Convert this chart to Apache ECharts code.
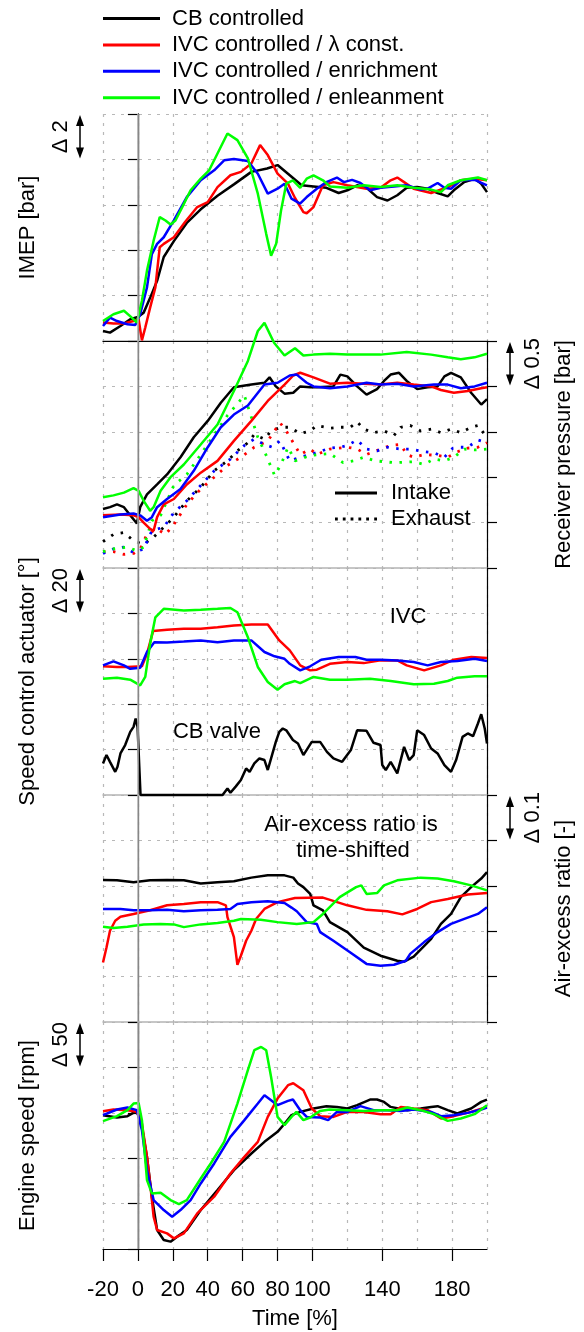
<!DOCTYPE html>
<html><head><meta charset="utf-8">
<script src="https://cdn.jsdelivr.net/npm/echarts@6/dist/echarts.min.js"></script>
<style>html,body{margin:0;padding:0;background:#fff}#c{width:584px;height:1332px}</style>
</head><body><div id="c"></div><script>
// ---------------- DATA ----------------
const seriesNames = ['CB controlled','IVC controlled / λ const.','IVC controlled / enrichment','IVC controlled / enleanment'];
const xTickValues = [-20,0,20,40,60,80,100,140,180];
const panelNames = ['IMEP [bar]','Receiver pressure [bar]','Speed control actuator [°]','Air-excess ratio [-]','Engine speed [rpm]'];
const deltaLabels = ['Δ 2','Δ 0.5','Δ 20','Δ 0.1','Δ 50'];
const deltaSteps = [2,0.5,20,0.1,50];
const pressureLegend = ['Intake','Exhaust'];

// Panel 1: IMEP [bar] (relative, 2 bar per division)
const imepCB = [[-20,0.44],[-16,0.37],[-10,0.66],[-4.4,0.96],[0,1.06],[3.3,1.25],[7,1.9],[11,2.65],[14.8,3.7],[20.6,4.4],[28,5.2],[36,5.8],[45.6,6.4],[55,6.9],[65,7.45],[74,7.6],[80,7.75],[87,7.3],[93.8,6.86],[100.6,6.81],[108,6.75],[115,6.52],[120,6.64],[125.6,6.86],[131,6.75],[137,6.34],[143,6.19],[148.6,6.42],[154,6.75],[160,6.78],[166,6.71],[171.7,6.52],[177.5,6.37],[181,6.64],[187,7.0],[193,7.15],[196.7,6.93],[200,6.56]];
const imepIVC = [[-20,0.81],[-14,0.77],[-8,0.77],[-2.5,0.88],[0.4,0.96],[2.3,0.03],[4.2,0.59],[7,1.47],[10,2.36],[12.5,4.13],[14.8,4.28],[20.6,4.57],[27,5.24],[34,5.9],[40,6.12],[45.6,6.78],[53,7.3],[59,7.45],[65,7.82],[70,8.63],[74.4,8.19],[80,7.37],[86,6.93],[90,6.3],[94.8,5.68],[96.7,5.63],[100.6,5.9],[106,6.86],[112,7.0],[120,6.86],[131,6.71],[139,6.75],[144.8,7.08],[148.6,7.2],[152.5,7.0],[158,6.71],[168,6.52],[177.5,6.78],[185,7.08],[193,7.15],[200,7.08]];
const imepEnr = [[-20,0.66],[-16,1.03],[-12,0.88],[-6,0.74],[-1.5,0.71],[1.3,1.18],[5.2,2.36],[8,3.83],[11,4.28],[14.8,4.57],[20.6,5.31],[28,6.34],[36,7.08],[43.7,7.52],[49.4,7.96],[55,8.02],[63,7.93],[68.7,7.37],[74.4,6.49],[80,6.71],[84,6.93],[88,6.27],[92.9,6.05],[96.7,6.34],[102.5,6.71],[108,7.0],[114,7.2],[118,7.0],[122.7,7.1],[127.5,6.96],[133,6.64],[139,6.75],[146.7,6.81],[154,6.86],[162,6.67],[166,6.71],[171.7,6.96],[175.6,6.75],[179.4,6.71],[185,7.08],[193,7.1],[200,6.86]];
const imepLean = [[-20,0.88],[-14,1.18],[-8,1.33],[-3.5,1.03],[-0.6,0.81],[2.3,1.77],[5.2,3.1],[9,4.42],[12.5,5.46],[15.8,5.31],[18.7,5.13],[21.5,5.31],[25.4,5.9],[30.2,6.64],[36,7.15],[40.8,7.52],[45.6,8.26],[51.3,9.14],[57,8.85],[63,8.04],[68.7,6.49],[73.5,4.72],[76.3,3.76],[79.2,4.28],[82,5.75],[85,6.93],[88.8,7.08],[93,6.75],[96.7,7.15],[100.6,7.3],[106,7.08],[110,6.81],[120,6.75],[129.4,6.86],[139,6.78],[148.6,6.86],[158,6.75],[168,6.67],[173.6,6.56],[177.5,6.86],[185,7.08],[194.8,7.2],[200,7.08]];

// Panel 2: receiver pressure [bar] (0.5 bar per division)
const presCB = [[-20,0.65],[-16,0.67],[-12,0.70],[-8,0.67],[-3.5,0.56],[-0.6,0.49],[1.3,0.67],[5.2,0.81],[11,0.92],[16.7,1.03],[24.4,1.22],[32,1.44],[40,1.62],[47.5,1.82],[55,1.99],[65,2.02],[72.5,2.04],[75.4,2.10],[79,2.0],[84,1.92],[89,1.93],[93,2.0],[98.7,1.99],[102.5,1.99],[112,2.0],[116,2.13],[120,2.11],[125.6,2.0],[131,1.91],[137,1.97],[141,2.06],[144.8,2.13],[149.6,2.15],[154,2.06],[160,1.97],[166,1.99],[171.7,2.0],[175.6,2.11],[179.4,2.15],[185,2.10],[190.9,1.93],[196.7,1.80],[200,1.86]];
const presIVC = [[-20,0.58],[-10,0.59],[-2.5,0.58],[0.4,0.56],[3.3,0.50],[7,0.43],[9,0.41],[11,0.56],[14.8,0.70],[20.6,0.76],[28,0.92],[36,1.05],[45.6,1.18],[55,1.40],[65,1.62],[74.4,1.84],[84,2.02],[89,2.12],[93,2.15],[100.6,2.10],[110,2.03],[120,2.04],[129,2.03],[139,2.02],[148.6,2.04],[158,2.02],[168,2.0],[173.6,1.96],[181,1.93],[189,1.95],[196.7,1.98],[200,1.99]];
const presEnr = [[-20,0.56],[-10,0.59],[-2.5,0.60],[1.3,0.58],[5.2,0.52],[8,0.56],[11,0.67],[16.7,0.76],[24.4,0.87],[32,1.07],[40,1.33],[47.5,1.55],[55,1.69],[63,1.79],[72.5,2.02],[80,2.04],[87,2.12],[91,2.13],[96.7,2.04],[100.6,2.0],[110,1.98],[120,2.0],[131,2.04],[139,2.02],[148.6,2.03],[158,2.0],[169.6,2.02],[177.5,2.02],[185,1.98],[192.9,2.0],[200,2.04]];
const presLean = [[-20,0.78],[-14,0.80],[-8,0.83],[-2.5,0.88],[0.4,0.85],[3.3,0.74],[7,0.63],[9,0.67],[13,0.85],[18.7,1.0],[26.3,1.14],[36,1.36],[45.6,1.58],[55,1.95],[63,2.28],[68.7,2.61],[72.5,2.70],[78,2.48],[84,2.34],[90,2.42],[94.8,2.34],[100.6,2.35],[110,2.36],[120,2.35],[139,2.35],[154,2.38],[168,2.35],[177.5,2.32],[185,2.30],[192.9,2.32],[200,2.36]];
const exhCB = [[-20,0.29],[-14,0.37],[-8,0.39],[-2.5,0.30],[3.3,0.26],[9,0.34],[14.8,0.45],[20.6,0.56],[28,0.74],[36,0.89],[43.7,1.07],[51.3,1.18],[57,1.29],[63,1.38],[66.7,1.47],[72.5,1.42],[76.3,1.51],[82,1.55],[87,1.55],[93,1.48],[98.7,1.51],[102.5,1.57],[110,1.54],[116,1.55],[121.7,1.55],[125.6,1.61],[129.4,1.53],[135,1.49],[141,1.51],[146.7,1.46],[150.6,1.55],[156,1.57],[162,1.51],[168,1.53],[173.6,1.49],[179.4,1.53],[185,1.49],[190.9,1.55],[194.8,1.57],[198.7,1.47],[200,1.45]];
const exhIVC = [[-20,0.18],[-14,0.18],[-8,0.15],[-2.5,0.16],[1.3,0.21],[5.2,0.37],[11,0.43],[15.8,0.37],[20.6,0.48],[28,0.70],[36,0.87],[43.7,1.0],[51.3,1.13],[59,1.22],[66.7,1.33],[74.4,1.40],[81.4,1.60],[85,1.51],[89,1.38],[93,1.25],[98.7,1.31],[102.5,1.25],[110,1.31],[120,1.33],[125.6,1.31],[131,1.25],[139,1.31],[144.8,1.35],[150.6,1.36],[154,1.25],[158,1.22],[164,1.25],[171.7,1.24],[177.5,1.22],[183,1.28],[189,1.32],[194.8,1.33],[200,1.38]];
const exhEnr = [[-20,0.16],[-14,0.21],[-8,0.23],[-2.5,0.17],[3.3,0.21],[8,0.41],[14.8,0.45],[20.6,0.61],[28,0.74],[36,0.91],[43.7,1.07],[53,1.20],[61,1.35],[66.7,1.42],[72.5,1.36],[77,1.33],[81.4,1.40],[87,1.18],[93,1.22],[100.6,1.26],[110,1.32],[116,1.33],[120,1.35],[125.6,1.41],[131,1.31],[137,1.29],[142.9,1.33],[150.6,1.31],[156,1.31],[164,1.28],[169.6,1.27],[175.6,1.22],[180.4,1.32],[185,1.33],[189,1.33],[194.8,1.41],[200,1.38]];
const exhLean = [[-20,0.18],[-14,0.21],[-6,0.23],[-0.6,0.19],[3.3,0.23],[8,0.52],[13,0.58],[20.6,0.91],[28,1.03],[36,1.25],[43.7,1.47],[51.3,1.68],[61,1.90],[68.7,1.44],[73.5,1.24],[78.3,1.02],[82,1.14],[86,1.33],[90,1.18],[93,1.20],[98.7,1.24],[104,1.25],[110,1.26],[117.5,1.16],[123.6,1.18],[129.4,1.22],[136,1.18],[146.7,1.16],[158,1.17],[164,1.14],[169.6,1.20],[175.6,1.18],[181,1.22],[187,1.31],[192.9,1.30],[200,1.31]];

// Panel 3: speed control actuator [°] (20° per division)
const cbValve = [[-20,13.9],[-18,17.6],[-16,14.6],[-13,10.2],[-11.7,12.4],[-10,18.3],[-7.3,22.0],[-4.4,27.8],[-2.5,30.0],[-1.3,33.7],[-0.2,30.0],[1.5,0],[48.5,0],[51.3,2.9],[53,1.0],[56,3.7],[59,6.6],[62,11.7],[64,10.2],[66.7,13.9],[69.6,16.1],[72.5,15.4],[74.4,11.0],[76.3,16.1],[79,23.4],[81,27.8],[83,29.3],[85,28.5],[86,29.3],[88.8,24.2],[91.7,22.7],[94.8,17.6],[99.6,23.4],[104.4,23.4],[108.3,19.0],[112,16.1],[117,14.6],[122,19.8],[125.6,28.5],[131,28.3],[135,23.0],[139,22.0],[140,13.2],[142,11.0],[144.8,14.6],[148.6,9.5],[152.5,21.2],[155.4,15.4],[158,17.6],[160,28.5],[164,26.4],[168,20.5],[171.7,18.3],[175.6,13.2],[179.4,10.2],[182.3,15.4],[186,25.6],[189,27.1],[192,25.9],[194.8,31.5],[196.7,35.6],[198.7,29.3],[200,22.7]];
const ivcConst = [[-20,56.7],[-12,56.4],[-6,56.4],[2.3,56.7],[5.2,62.2],[8.7,72.2],[16.7,72.8],[26.3,73.2],[36,73.2],[45.6,73.9],[55,74.7],[65,75.1],[74.4,75.1],[81,68.1],[87,63.7],[93,57.1],[98.7,54.9],[102.5,55.2],[110,57.8],[120,58.6],[129.4,58.1],[139,59.3],[148.6,59.3],[154,57.1],[164,54.9],[173.6,57.1],[181,59.6],[191,60.8],[200,60.3]];
const ivcEnr = [[-20,57.1],[-14,58.9],[-8,57.1],[-4.4,55.6],[1.3,56.1],[5.2,63.0],[9.4,67.3],[16.7,67.2],[26.3,67.6],[36,68.1],[45.6,67.3],[55,68.1],[65,68.1],[72.5,63.0],[78.3,61.1],[84,60.0],[87,57.8],[93,54.9],[98.7,56.7],[105,59.6],[115,60.8],[124.6,60.8],[131,59.6],[139,59.6],[148.6,59.3],[158,58.6],[166,57.1],[173.6,58.6],[183,59.0],[192.9,60.0],[200,59.0]];
const ivcLean = [[-20,51.2],[-12,51.7],[-4.4,50.8],[1.3,48.3],[4.2,52.0],[7,66.6],[10,78.3],[14.8,82.0],[26.3,81.3],[36,81.6],[45.6,82.0],[53,82.4],[57,80.5],[63,69.5],[68.7,56.4],[74.4,49.8],[80,46.4],[84,48.8],[90,50.2],[93,49.3],[100.6,52.0],[110,50.8],[120,50.8],[133,51.2],[144.8,50.2],[158,48.8],[169.6,49.0],[177.5,50.2],[183,51.7],[192.9,52.3],[200,52.3]];

// Panel 4: air-excess ratio [-] (0.1 per division)
const lamCB = [[-20,0.313],[-12,0.312],[-2.5,0.308],[7,0.312],[16.7,0.313],[26.3,0.312],[36,0.305],[45.6,0.308],[55,0.310],[65,0.318],[74.4,0.323],[84,0.323],[89,0.318],[91.7,0.305],[94.8,0.297],[98.7,0.282],[100.6,0.257],[106,0.246],[110,0.220],[120,0.198],[129.4,0.164],[139,0.146],[148.6,0.135],[152.5,0.133],[158,0.144],[168,0.183],[173.6,0.216],[179.4,0.238],[185,0.275],[190.9,0.297],[196.7,0.316],[200,0.330]];
const lamIVC = [[-20,0.131],[-18,0.164],[-16,0.201],[-13,0.223],[-10,0.232],[-2.5,0.238],[7,0.246],[16.7,0.257],[26.3,0.260],[36,0.264],[45.6,0.264],[50.4,0.257],[51.3,0.231],[55,0.187],[57,0.126],[59,0.146],[62,0.179],[65,0.201],[67.7,0.227],[72.5,0.249],[80,0.264],[90,0.273],[106,0.274],[120,0.257],[131,0.247],[142.9,0.244],[151.5,0.237],[160,0.249],[168,0.264],[177.5,0.271],[189,0.281],[200,0.284]];
const lamEnr = [[-20,0.249],[-10,0.249],[-2.5,0.246],[7,0.246],[16.7,0.247],[26.3,0.244],[36,0.246],[45.6,0.247],[53,0.249],[57,0.260],[65,0.264],[74.4,0.266],[84,0.262],[88,0.252],[91,0.244],[96.7,0.220],[102.5,0.216],[104.4,0.198],[112,0.179],[121.7,0.153],[131,0.128],[139,0.124],[146.7,0.126],[153.5,0.135],[156,0.150],[164,0.176],[171.7,0.198],[179.4,0.216],[187,0.227],[194.8,0.238],[200,0.253]];
const lamLean = [[-20,0.210],[-14,0.207],[-6,0.210],[3.3,0.215],[12.9,0.216],[20.6,0.215],[26.3,0.209],[36,0.215],[45.6,0.218],[55,0.223],[59,0.227],[70.4,0.225],[80,0.220],[91,0.216],[100.6,0.220],[106,0.238],[115.6,0.275],[125,0.297],[128,0.301],[131,0.282],[137,0.284],[141,0.301],[148.6,0.312],[162,0.318],[171.7,0.316],[181,0.310],[190.9,0.301],[200,0.290]];

// Panel 5: engine speed [rpm] (50 rpm per division)
const spdCB = [[-20,147.4],[-12,144.8],[-6,146.3],[-0.6,152.1],[2.3,134.5],[5.2,101.5],[8,57.6],[11,20.9],[14.8,9.9],[18.7,8.1],[22.5,13.6],[28,20.9],[36,42.9],[45.6,64.9],[55,86.9],[65,105.2],[72.5,118.0],[80,129.0],[84,138],[88,147.4],[93,151.0],[100.6,154.7],[108,157.3],[114,156.5],[120,154.7],[125.6,158.4],[133,164.6],[137,164.6],[141,162.0],[144.8,156.5],[154.4,152.9],[162,154.7],[168,156.5],[171.7,157.3],[177.5,152.9],[183,149.2],[190.9,154.7],[196.7,162.0],[200,164.6]];
const spdIVC = [[-20,151.8],[-14,153.6],[-6,152.9],[-0.6,151.0],[2.3,138.2],[5.2,101.5],[7,72.2],[9,35.6],[11,20.9],[16.7,17.2],[20.6,11.7],[26.3,17.2],[34,39.2],[43.7,57.6],[53,83.2],[61,101.5],[68.7,118.0],[74.4,145.5],[80,165.7],[86,180.4],[89,182.5],[94.8,174.9],[99.6,154.7],[104.4,146.3],[112,145.5],[120,151.0],[129.4,151.0],[139,148.5],[144.8,148.5],[150.6,156.5],[158,154.7],[166,152.9],[173.6,143.7],[181,146.3],[190.9,151.0],[200,156.5]];
const spdEnr = [[-20,147.4],[-12,153.6],[-6,155.8],[-0.6,152.9],[2.3,130.9],[5.2,86.9],[9,53.9],[14.8,42.9],[19.6,35.6],[24.4,42.9],[30.2,53.9],[36,72.2],[43.7,94.2],[53,123.5],[61,141.9],[68.7,160.2],[72.5,169.4],[76.3,163.9],[80,158.4],[86,163.1],[88.8,164.6],[93,152.9],[96.7,145.5],[104.4,144.8],[109,141.9],[114,151.0],[120,151.0],[127.5,157.3],[135,152.9],[142.9,152.9],[150.6,152.1],[158,153.6],[168,151.0],[173.6,146.3],[181,147.4],[189,149.9],[196.7,153.6],[200,155.8]];
const spdLean = [[-20,140.8],[-12,146.3],[-6,152.9],[-2.5,160.2],[0.4,160.9],[2.3,141.9],[5.2,75.9],[8,61.2],[13,62.0],[18.7,53.9],[23.5,49.5],[28,53.9],[36,77.7],[41.7,94.2],[49.4,118.0],[57,160.2],[63,196.9],[66.7,218.9],[70.6,222.5],[73.5,218.9],[76.3,189.5],[80,145.5],[84,136.4],[88,145.5],[90.8,151.0],[94.8,141.9],[98.7,144.8],[104.4,152.1],[110,153.6],[120,152.9],[129.4,152.1],[139,152.9],[148.6,152.9],[154.4,155.8],[162,152.9],[169.6,148.5],[177.5,141.1],[185,143.7],[192.9,148.5],[200,158.4]];

// ---------------- STYLE / LAYOUT ----------------
const COLORS = ['#000000','#ff0000','#0000ff','#00ff00'];
const FONT = 'Liberation Sans, Arial, Helvetica, sans-serif';
const FS = 22;
const GL = 103, GR = 97, TOP0 = 114, PH = 227;
const tickSide = ['left','right','left','right','left'];
const GRID_GRAY = '#b8b8b8';
const FRAME_GRAY = '#b4b4b4';
const DOT = [2.5, 7.5];
const ICON_LINE57 = 'path://M0,0h0.01v0.01z M0,9.5h57v3h-57z M0,22h0.01v-0.01z';
const ICON_LINE42 = 'path://M0,0h0.01v0.01z M0,9.5h42v3h-42z M0,22h0.01v-0.01z';
const ICON_DOT42 = 'path://M0,0h0.01v0.01z M0,9.6h2.8v2.8h-2.8z M7.8,9.6h2.8v2.8h-2.8z M15.6,9.6h2.8v2.8h-2.8z M23.4,9.6h2.8v2.8h-2.8z M31.2,9.6h2.8v2.8h-2.8z M39.2,9.6h2.8v2.8h-2.8z M0,22h0.01v-0.01z';

const panelSolid = [
  [imepCB, imepIVC, imepEnr, imepLean],
  [presCB, presIVC, presEnr, presLean],
  [cbValve, ivcConst, ivcEnr, ivcLean],
  [lamCB, lamIVC, lamEnr, lamLean],
  [spdCB, spdIVC, spdEnr, spdLean]
];
const exhaustSets = [exhCB, exhIVC, exhEnr, exhLean];
const txt = {fontSize: FS, fontFamily: FONT, color: '#000'};

const grids = [], xAxes = [], yAxes = [], series = [];
for (let i = 0; i < 5; i++) {
  grids.push({left: GL, right: GR, top: TOP0 + i*PH, height: PH});
  xAxes.push({
    gridIndex: i, type: 'value', min: -20, max: 200, interval: 20,
    position: i === 4 ? 'top' : 'bottom',
    axisLabel: {show: false}, axisTick: {show: false},
    axisLine: {show: i < 4, lineStyle: {color: FRAME_GRAY, width: 1.5}},
    splitLine: {show: true, lineStyle: {color: GRID_GRAY, type: [3, 6], width: 1.2}}
  });
  const step = deltaSteps[i];
  const left = tickSide[i] === 'left';
  const common = {gridIndex: i, type: 'value', min: 0, max: +(5*step).toFixed(4), interval: step,
    axisLabel: {show: false},
    axisLine: {show: true, lineStyle: {color: '#000', width: 1.2}},
    nameLocation: 'middle', nameRotate: 90, nameTextStyle: txt};
  yAxes.push(Object.assign({}, common, {
    position: 'left', name: left ? panelNames[i] : '', nameGap: 64,
    axisTick: {show: left, length: 10, lineStyle: {color: '#000', width: 1.2}},
    splitLine: {show: true, lineStyle: {color: GRID_GRAY, type: [3, 6], width: 1.2}}
  }));
  yAxes.push(Object.assign({}, common, {
    position: 'right', name: left ? '' : panelNames[i], nameGap: 66,
    axisTick: {show: !left, length: 10, lineStyle: {color: '#000', width: 1.2}},
    splitLine: {show: false}
  }));
  // x = 0 reference line
  series.push({type: 'line', data: [], xAxisIndex: i, yAxisIndex: 2*i, silent: true, z: 1,
    markLine: {silent: true, symbol: 'none', animation: false, label: {show: false},
      lineStyle: {color: FRAME_GRAY, type: 'solid', width: 1.5}, data: [{xAxis: 0}]}});
  panelSolid[i].forEach((d, k) => {
    series.push({type: 'line', name: seriesNames[k], data: d, xAxisIndex: i, yAxisIndex: 2*i,
      showSymbol: false, symbol: 'none', animation: false, z: 3, clip: false,
      lineStyle: {color: COLORS[k], width: 2.5}, itemStyle: {color: COLORS[k]}});
  });
  if (i === 1) {
    exhaustSets.forEach((d, k) => {
      series.push({type: 'line', name: seriesNames[k], data: d, xAxisIndex: i, yAxisIndex: 2*i,
        showSymbol: false, symbol: 'none', animation: false, z: 2,
        lineStyle: {color: COLORS[k], width: 2.8, type: DOT, cap: 'butt'}, itemStyle: {color: COLORS[k]}});
    });
    series.push({type: 'line', name: pressureLegend[0], data: [], xAxisIndex: i, yAxisIndex: 2*i,
      symbol: 'none', lineStyle: {color: '#000', width: 2.5}, itemStyle: {color: '#000'}});
    series.push({type: 'line', name: pressureLegend[1], data: [], xAxisIndex: i, yAxisIndex: 2*i,
      symbol: 'none', lineStyle: {color: '#000', width: 2.8, type: DOT}, itemStyle: {color: '#000'}});
  }
}
// top frame of first panel
xAxes.push({gridIndex: 0, type: 'value', min: -20, max: 200, position: 'top',
  axisLabel: {show: false}, axisTick: {show: false}, splitLine: {show: false},
  axisLine: {show: true, lineStyle: {color: '#000', width: 1.2}}});
// bottom time axis
xAxes.push({gridIndex: 4, type: 'value', min: -20, max: 200, interval: 20, position: 'bottom',
  axisLine: {show: true, lineStyle: {color: '#000', width: 1.2}},
  axisTick: {show: true, length: 12, customValues: xTickValues, lineStyle: {color: '#000', width: 1.2}},
  axisLabel: Object.assign({show: true, customValues: xTickValues, margin: 30}, txt),
  splitLine: {show: false},
  name: 'Time [%]', nameLocation: 'middle', nameGap: 59, nameTextStyle: txt});

const chart = echarts.init(document.getElementById('c'), null, {renderer: 'canvas'});
const option = {
  backgroundColor: '#ffffff',
  animation: false,
  textStyle: {fontFamily: FONT},
  grid: grids, xAxis: xAxes, yAxis: yAxes, series: series,
  legend: [
    {data: seriesNames.map(n => ({name: n, icon: ICON_LINE57})), orient: 'vertical', left: 103, top: 7.5, padding: 0,
      itemWidth: 57, itemHeight: 22, itemGap: 4.4,
      textStyle: Object.assign({lineHeight: 22, padding: [0, 0, 0, 7]}, txt)},
    {data: [{name: pressureLegend[0], icon: ICON_LINE42}, {name: pressureLegend[1], icon: ICON_DOT42}],
      orient: 'vertical', left: 335, top: 482, padding: 0, itemWidth: 42, itemHeight: 22, itemGap: 4,
      textStyle: Object.assign({lineHeight: 22, padding: [0, 0, 0, 9]}, txt)}
  ]
};
chart.setOption(option);

// Delta scale arrows and annotations
const g = [];
for (let i = 0; i < 5; i++) {
  const step = deltaSteps[i];
  const yTop = chart.convertToPixel({yAxisIndex: 2*i}, 5*step);
  const yNext = chart.convertToPixel({yAxisIndex: 2*i}, 4*step);
  const left = tickSide[i] === 'left';
  const ax = left ? GL - 23 : 584 - GR + 23;
  const tx = left ? GL - 42 : 584 - GR + 46;
  g.push({type: 'line', shape: {x1: ax, y1: yTop + 8, x2: ax, y2: yNext - 8}, style: {stroke: '#000', lineWidth: 1.5}});
  g.push({type: 'polygon', shape: {points: [[ax, yTop + 1], [ax - 4, yTop + 12], [ax + 4, yTop + 12]]}, style: {fill: '#000'}});
  g.push({type: 'polygon', shape: {points: [[ax, yNext - 1], [ax - 4, yNext - 12], [ax + 4, yNext - 12]]}, style: {fill: '#000'}});
  g.push({type: 'text', x: tx, y: (yTop + yNext)/2, rotation: Math.PI/2,
    style: {text: deltaLabels[i], fontSize: FS, fontFamily: FONT, fill: '#000', align: 'center', verticalAlign: 'middle'}});
}
const notes = [
  {text: 'IVC', x: 408, y: 617},
  {text: 'CB valve', x: 217, y: 732},
  {text: 'Air-excess ratio is', x: 351, y: 825},
  {text: 'time-shifted', x: 353, y: 851}
];
notes.forEach(n => g.push({type: 'text', x: n.x, y: n.y,
  style: {text: n.text, fontSize: FS, fontFamily: FONT, fill: '#000', align: 'center', verticalAlign: 'middle'}}));
chart.setOption({graphic: g});
</script></body></html>
